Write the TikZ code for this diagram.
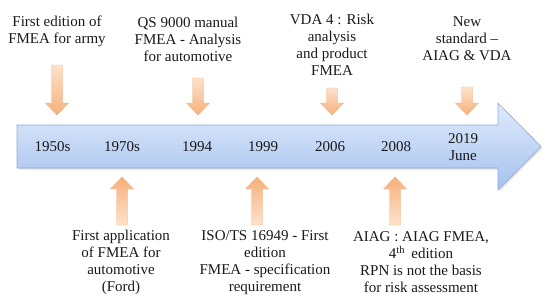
\documentclass[tikz,border=0pt]{standalone}
\usepackage{fontspec}
\setmainfont{Liberation Serif}

\definecolor{barlight}{RGB}{223,234,252}
\definecolor{bardark}{RGB}{166,194,238}
\definecolor{baredge}{RGB}{140,170,222}
\definecolor{peachlight}{RGB}{253,226,204}
\definecolor{peachdark}{RGB}{247,176,122}
\definecolor{peachedge}{RGB}{240,178,130}

\begin{document}
\begin{tikzpicture}[x=1pt, y=-1pt,
    every node/.style={font=\fontsize{15}{17}\selectfont, text=black!90, align=center, inner sep=0pt},
    downarrow/.style={top color=peachlight, bottom color=peachdark, draw=peachedge, line width=0.4pt},
    uparrow/.style={top color=peachdark, bottom color=peachlight, draw=peachedge, line width=0.4pt}]
  \useasboundingbox (0,0) rectangle (550,303);

  % timeline arrow
  \fill[black!12] (18.5,126.5) -- (499.5,126.5) -- (499.5,104.5) -- (542.5,148) -- (499.5,191.5) -- (499.5,169.5) -- (18.5,169.5) -- cycle;
  \draw[top color=barlight, bottom color=bardark, draw=baredge, line width=0.6pt]
    (17,125) -- (498,125) -- (498,103) -- (541,146.5) -- (498,190) -- (498,168) -- (17,168) -- cycle;

  % years
  \node (y1950) at (52.5,147) {1950s};
  \node (y1970) at (122,147) {1970s};
  \node (y1994) at (197,147) {1994};
  \node (y1999) at (263,147) {1999};
  \node (y2006) at (330,147) {2006};
  \node (y2008) at (396,147) {2008};
  \node (y2019) at (463,147) {2019\\June};

  % arrows from above
  \foreach \cx/\ty in {57/65, 198/78, 332/88, 467/87}
    \draw[downarrow] (\cx-5.5,\ty) -- (\cx+5.5,\ty) -- (\cx+5.5,103) -- (\cx+11.5,103)
      -- (\cx,115) -- (\cx-11.5,103) -- (\cx-5.5,103) -- cycle;

  % arrows from below
  \foreach \cx in {122, 257, 395}
    \draw[uparrow] (\cx-5.5,225) -- (\cx+5.5,225) -- (\cx+5.5,189) -- (\cx+11.5,189)
      -- (\cx,177) -- (\cx-11.5,189) -- (\cx-5.5,189) -- cycle;

  % events above the line
  \node (army) at (57,31) {First edition of\\FMEA for army};
  \node (qs) at (188,39.5) {QS 9000 manual\\FMEA - Analysis\\for automotive};
  \node (vda) at (332,45) {VDA 4 : Risk\\analysis\\and product\\FMEA};
  \node (new) at (467,38.5) {New\\standard --\\AIAG \& VDA};

  % events below the line
  \node (ford) at (121,262.5) {First application\\of FMEA for\\automotive\\(Ford)};
  \node (iso) at (265,262.5) {ISO/TS 16949 - First\\edition\\FMEA - specification\\requirement};
  \node (aiag) at (421,262.5) {AIAG : AIAG FMEA,\\4\textsuperscript{th}\,\ edition\\RPN is not the basis\\for risk assessment};
\end{tikzpicture}
\end{document}
